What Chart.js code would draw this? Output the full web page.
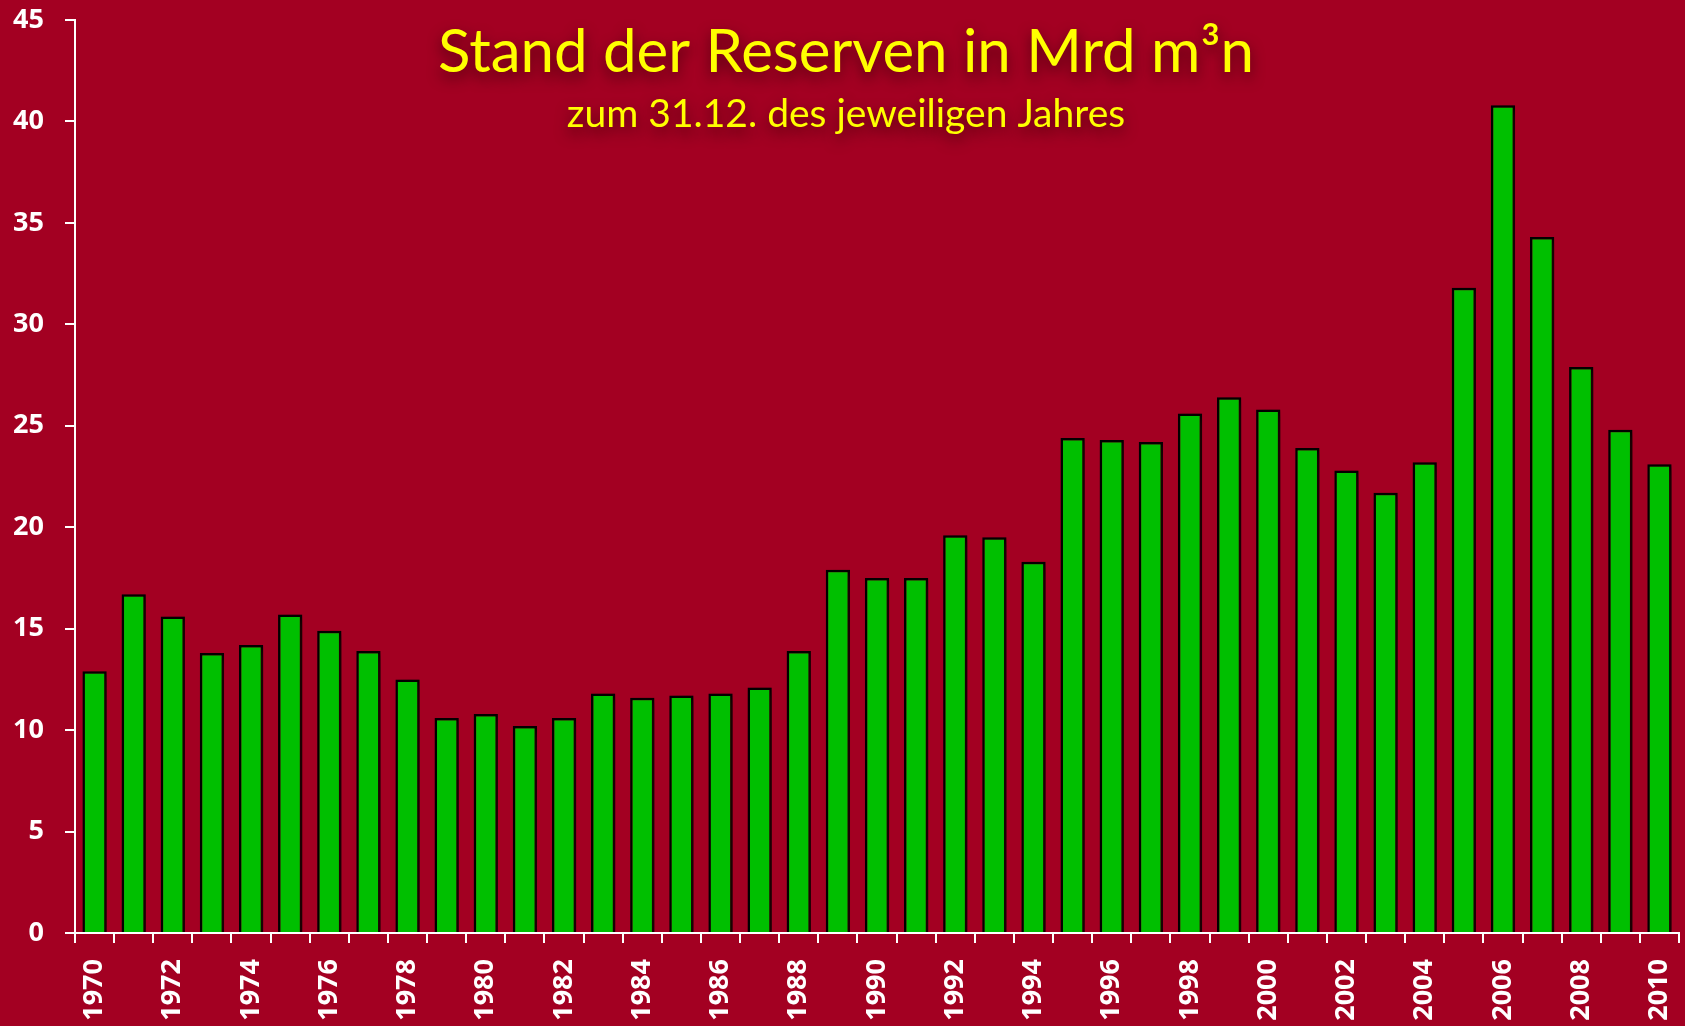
<!DOCTYPE html>
<html>
<head>
<meta charset="utf-8">
<script src="https://cdn.jsdelivr.net/npm/chart.js@4"></script>
<style>
  html, body { margin: 0; padding: 0; background: #a30022; }
  #wrap { width: 1685px; height: 1026px; position: relative; }
</style>
</head>
<body>
<div id="wrap"><canvas id="bar-chart"></canvas></div>
<script>
const years = [];
for (let y = 1970; y <= 2010; y++) years.push(String(y));

// Stand der Reserven in Mrd m³n
const reserves = [
  12.9, 16.7, 15.6, 13.8, 14.2, 15.7, 14.9, 13.9, 12.5, 10.6,
  10.8, 10.2, 10.6, 11.8, 11.6, 11.7, 11.8, 12.1, 13.9, 17.9,
  17.5, 17.5, 19.6, 19.5, 18.3, 24.4, 24.3, 24.2, 25.6, 26.4,
  25.8, 23.9, 22.8, 21.7, 23.2, 31.8, 40.8, 34.3, 27.9, 24.8,
  23.1
];

const yTicks = [0, 5, 10, 15, 20, 25, 30, 35, 40, 45];

const titleText = 'Stand der Reserven in Mrd m³n';
const subtitleText = 'zum 31.12. des jeweiligen Jahres';

// drop shadow behind the bars
const barShadow = {
  id: 'barShadow',
  beforeDatasetsDraw(chart) {
    const ctx = chart.ctx;
    ctx.save();
    ctx.shadowColor = 'rgba(40,0,5,0.8)';
    ctx.shadowBlur = 8;
    ctx.shadowOffsetX = 6;
    ctx.shadowOffsetY = 3;
  },
  afterDatasetsDraw(chart) {
    chart.ctx.restore();
  }
};

// titles sit inside the plot area, so draw them by hand
const titles = {
  id: 'titles',
  afterDraw(chart) {
    const ctx = chart.ctx;
    const cx = 846;
    ctx.save();
    ctx.textAlign = 'center';
    ctx.textBaseline = 'alphabetic';
    ctx.fillStyle = '#ffff00';
    ctx.shadowColor = 'rgba(60,0,10,0.8)';
    ctx.shadowBlur = 14;
    ctx.shadowOffsetY = 6;
    ctx.font = '60px Lato';
    ctx.fillText(titleText, cx, 72);
    ctx.font = '39px Lato';
    ctx.fillText(subtitleText, cx, 127);
    ctx.restore();
  }
};

const chart = new Chart(document.getElementById('bar-chart'), {
  type: 'bar',
  data: {
    labels: years,
    datasets: [{
      data: reserves,
      backgroundColor: '#00bf00',
      borderColor: '#000000',
      borderWidth: 2.5,
      barPercentage: 0.62,
      categoryPercentage: 1.0
    }]
  },
  options: {
    responsive: true,
    maintainAspectRatio: false,
    animation: false,
    layout: {
      padding: { top: 20, right: 6, left: 0, bottom: 0 }
    },
    plugins: {
      legend: { display: false },
      tooltip: { enabled: false },
      title: { display: false }
    },
    scales: {
      x: {
        grid: {
          drawOnChartArea: false,
          drawTicks: true,
          tickLength: 10,
          color: '#ffffff',
          lineWidth: 2,
          offset: true
        },
        border: { color: '#ffffff', width: 2 },
        ticks: {
          color: '#ffffff',
          autoSkip: false,
          maxRotation: 90,
          minRotation: 90,
          padding: 16,
          font: { family: 'Open Sans', size: 27, weight: 'bold' },
          callback: function (val, idx) {
            return idx % 2 === 0 ? years[idx] : '';
          }
        },
        afterFit(scale) {
          scale.height = 93;
          scale.paddingLeft = 0;
          scale.paddingRight = 0;
        }
      },
      y: {
        min: 0,
        max: 45,
        afterBuildTicks(scale) {
          scale.ticks = yTicks.map(v => ({ value: v }));
        },
        grid: {
          drawOnChartArea: false,
          drawTicks: true,
          tickLength: 10,
          color: '#ffffff',
          lineWidth: 2
        },
        border: { color: '#ffffff', width: 2 },
        ticks: {
          color: '#ffffff',
          padding: 21,
          font: { family: 'Open Sans', size: 27, weight: 'bold' }
        },
        afterFit(scale) {
          scale.width = 75;
          scale.paddingTop = 0;
          scale.paddingBottom = 0;
        }
      }
    }
  },
  plugins: [barShadow, titles]
});
</script>
</body>
</html>
